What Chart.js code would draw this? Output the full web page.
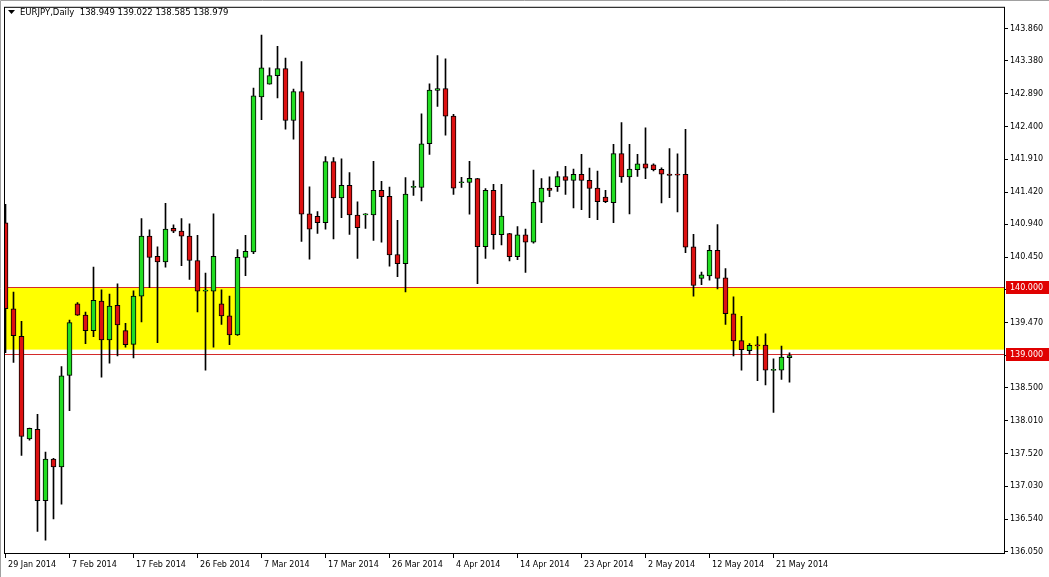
<!DOCTYPE html>
<html>
<head>
<meta charset="utf-8">
<script src="https://cdn.jsdelivr.net/npm/chart.js@4.4.1/dist/chart.umd.min.js"></script>
<style>
  html, body { margin: 0; padding: 0; background: #fff; }
  #wrap { width: 1049px; height: 577px; position: relative; }
</style>
</head>
<body>
<div id="wrap"><canvas id="chart"></canvas></div>
<script>
// EURJPY daily candles, 29 Jan 2014 .. 23 May 2014
const opens = [
    140.963, 139.679, 139.268, 137.737, 137.879, 136.816, 137.437, 137.321, 138.684, 139.753,
    139.584, 139.353, 139.795, 139.216, 139.732, 139.353, 139.147, 139.868, 140.763, 140.463,
    140.379, 140.879, 140.837, 140.763, 140.400, 139.942, 139.942, 139.753, 139.574, 139.289,
    140.447, 140.526, 142.842, 143.032, 143.158, 143.263, 142.489, 142.921, 141.095, 141.058,
    140.963, 141.874, 141.332, 141.521, 141.079, 141.080, 141.079, 141.447, 141.358, 140.489,
    140.353, 141.490, 141.489, 142.142, 142.937, 142.963, 142.553, 141.560, 141.563, 141.621,
    140.605, 141.447, 140.784, 140.800, 140.458, 140.784, 140.674, 141.268, 141.479, 141.500,
    141.653, 141.595, 141.684, 141.595, 141.479, 141.347, 141.263, 141.995, 141.647, 141.753,
    141.842, 141.826, 141.758, 141.689, 141.679, 141.684, 140.605, 140.132, 140.168, 140.553,
    140.142, 139.605, 139.205, 139.053, 139.135, 139.137, 138.760, 138.763, 138.949
];
const highs = [
    141.237, 139.930, 139.490, 137.900, 138.105, 137.542, 137.447, 138.816, 139.510, 139.770,
    139.630, 140.300, 139.960, 139.900, 140.050, 139.463, 139.947, 141.026, 140.858, 140.605,
    141.253, 140.930, 141.026, 140.947, 140.774, 140.210, 141.095, 139.963, 139.868, 140.563,
    140.774, 142.974, 143.763, 143.274, 143.595, 143.420, 142.958, 143.368, 141.500, 141.130,
    141.950, 141.937, 141.916, 141.710, 141.274, 141.100, 141.880, 141.580, 141.495, 141.000,
    141.637, 141.590, 142.589, 143.037, 143.458, 143.410, 142.580, 141.640, 141.879, 141.626,
    141.474, 141.537, 141.537, 140.805, 140.905, 140.868, 141.747, 141.621, 141.647, 141.726,
    141.805, 141.763, 141.984, 141.779, 141.732, 141.447, 142.132, 142.458, 142.132, 141.984,
    142.379, 141.842, 141.784, 142.068, 141.990, 142.358, 140.789, 140.226, 140.626, 140.937,
    140.279, 139.858, 139.568, 139.158, 139.263, 139.305, 138.932, 139.121, 139.022
];
const lows = [
    139.026, 138.880, 137.490, 137.720, 136.358, 136.226, 136.542, 136.763, 138.158, 139.580,
    139.158, 139.263, 138.658, 138.868, 138.974, 139.105, 138.947, 139.484, 139.995, 139.174,
    140.300, 140.816, 140.321, 140.116, 139.632, 138.763, 139.105, 139.447, 139.142, 139.280,
    140.174, 140.500, 142.500, 143.030, 142.826, 142.358, 142.211, 140.684, 140.421, 140.805,
    140.868, 140.721, 141.037, 140.789, 140.432, 140.879, 140.700, 140.674, 140.316, 140.158,
    139.932, 141.370, 141.289, 141.984, 142.700, 142.268, 141.384, 141.490, 141.089, 140.053,
    140.432, 140.568, 140.632, 140.395, 140.410, 140.221, 140.658, 140.963, 141.353, 141.432,
    141.384, 141.184, 141.158, 141.037, 141.010, 141.263, 140.963, 141.563, 141.095, 141.653,
    141.621, 141.737, 141.258, 141.337, 141.126, 140.516, 139.868, 140.037, 140.105, 139.974,
    139.447, 138.974, 138.763, 139.000, 138.605, 138.542, 138.132, 138.626, 138.585
];
const closes = [
    139.679, 139.279, 137.774, 137.895, 136.816, 137.437, 137.321, 138.679, 139.474, 139.584,
    139.353, 139.805, 139.216, 139.721, 139.437, 139.142, 139.868, 140.763, 140.447, 140.379,
    140.868, 140.837, 140.763, 140.400, 139.942, 139.945, 140.463, 139.574, 139.289, 140.447,
    140.537, 142.858, 143.274, 143.158, 143.263, 142.489, 142.921, 141.089, 140.868, 140.963,
    141.874, 141.332, 141.521, 141.079, 140.889, 141.090, 141.447, 141.353, 140.484, 140.353,
    141.389, 141.500, 142.142, 142.942, 142.963, 142.553, 141.479, 141.565, 141.626, 140.605,
    141.447, 140.784, 141.063, 140.458, 140.784, 140.674, 141.268, 141.479, 141.447, 141.653,
    141.595, 141.684, 141.595, 141.474, 141.279, 141.279, 141.995, 141.647, 141.763, 141.842,
    141.779, 141.753, 141.689, 141.668, 141.674, 140.600, 140.026, 140.184, 140.553, 140.132,
    139.605, 139.200, 139.068, 139.132, 139.125, 138.763, 138.770, 138.958, 138.979
];

// x axis labels sit on every 8th bar
const xTickIndex = [0, 8, 16, 24, 32, 40, 48, 56, 64, 72, 80, 88, 96];
const xTickLabels = ['29 Jan 2014', '7 Feb 2014', '17 Feb 2014', '26 Feb 2014', '7 Mar 2014',
    '17 Mar 2014', '26 Mar 2014', '4 Apr 2014', '14 Apr 2014', '23 Apr 2014', '2 May 2014',
    '12 May 2014', '21 May 2014'];

const yTicks = [143.860, 143.380, 142.890, 142.400, 141.910, 141.420, 140.940, 140.450, 139.960,
    139.470, 138.980, 138.500, 138.010, 137.520, 137.030, 136.540, 136.050];

// support zone + price lines
const zoneTop = 140.0;
const zoneBottom = 139.07;
const levelLines = [140.0, 139.0];
const header = 'EURJPY,Daily  138.949 139.022 138.585 138.979';

const GREEN = '#22dd22';
const RED = '#dd1111';
const FONT = 'DejaVu Sans';

const bodies = opens.map((o, i) => ({ x: i, y: [Math.min(o, closes[i]), Math.max(o, closes[i])] }));
const wicks = lows.map((l, i) => ({ x: i, y: [l, highs[i]] }));
const bodyColors = opens.map((o, i) => closes[i] >= o ? GREEN : RED);

const overlay = {
    id: 'overlay',
    beforeDraw(chart) {
        const ctx = chart.ctx;
        ctx.save();
        ctx.fillStyle = '#fff';
        ctx.fillRect(0, 0, chart.width, chart.height);
        ctx.strokeStyle = '#a0a0a0';
        ctx.lineWidth = 1;
        ctx.beginPath();
        ctx.moveTo(0.5, chart.height); ctx.lineTo(0.5, 0.5); ctx.lineTo(chart.width, 0.5);
        ctx.stroke();
        ctx.restore();
    },
    beforeDatasetsDraw(chart) {
        const ctx = chart.ctx, a = chart.chartArea, y = chart.scales.y;
        ctx.save();
        ctx.fillStyle = '#ffff00';
        const t = y.getPixelForValue(zoneTop), b = y.getPixelForValue(zoneBottom);
        ctx.fillRect(a.left, t, a.right - a.left, b - t);
        ctx.strokeStyle = '#d42a2a';
        ctx.lineWidth = 1;
        levelLines.forEach(v => {
            const p = Math.round(y.getPixelForValue(v)) + 0.5;
            ctx.beginPath();
            ctx.moveTo(a.left, p);
            ctx.lineTo(a.right, p);
            ctx.stroke();
        });
        ctx.restore();
    },
    afterDraw(chart) {
        const ctx = chart.ctx, a = chart.chartArea, y = chart.scales.y;
        ctx.save();
        // plot frame
        ctx.strokeStyle = '#000';
        ctx.lineWidth = 1;
        ctx.strokeRect(a.left + 0.5, a.top + 0.5, a.right - a.left, a.bottom - a.top);
        // header
        ctx.fillStyle = '#000';
        ctx.beginPath();
        ctx.moveTo(8, 10); ctx.lineTo(15, 10); ctx.lineTo(11.5, 14);
        ctx.closePath();
        ctx.fill();
        ctx.font = '8.5px "' + FONT + '"';
        ctx.textBaseline = 'middle';
        ctx.fillText(header, 20, 13);
        // price labels of the level lines
        ctx.font = '8px "' + FONT + '"';
        levelLines.forEach(v => {
            const p = Math.round(y.getPixelForValue(v));
            ctx.fillStyle = '#e00000';
            ctx.fillRect(a.right + 2, p - 6, 43, 13);
            ctx.fillStyle = '#fff';
            ctx.textAlign = 'left';
            ctx.fillText(v.toFixed(3), a.right + 6, p + 0.5);
        });
        ctx.restore();
    }
};

new Chart(document.getElementById('chart'), {
    type: 'bar',
    data: {
        datasets: [
            {
                label: 'body',
                data: bodies,
                backgroundColor: bodyColors,
                borderColor: '#000',
                borderWidth: 1,
                borderSkipped: false,
                barThickness: 5,
                minBarLength: 1,
                grouped: false,
                order: 1
            },
            {
                label: 'wick',
                data: wicks,
                backgroundColor: '#000',
                borderWidth: 0,
                barThickness: 1,
                grouped: false,
                order: 2
            }
        ]
    },
    options: {
        responsive: true,
        maintainAspectRatio: false,
        animation: false,
        layout: { padding: { left: 4, top: 4, right: 0, bottom: 0 } },
        plugins: { legend: { display: false }, tooltip: { enabled: false } },
        scales: {
            x: {
                type: 'linear',
                min: -0.1875,
                max: 124.8125,
                offset: false,
                afterBuildTicks: s => { s.ticks = xTickIndex.map(v => ({ value: v })); },
                afterFit: s => { s.height = 24; },
                border: { display: false },
                grid: { drawOnChartArea: false, tickLength: 5, color: '#000', offset: false },
                ticks: {
                    autoSkip: false,
                    maxRotation: 0,
                    align: 'start',
                    padding: 2,
                    color: '#000',
                    font: { family: FONT, size: 8 },
                    callback: v => ' ' + xTickLabels[xTickIndex.indexOf(v)]
                }
            },
            y: {
                type: 'linear',
                position: 'right',
                min: 136.035,
                max: 144.185,
                afterBuildTicks: s => { s.ticks = yTicks.map(v => ({ value: v })); },
                afterFit: s => { s.width = 45; },
                border: { display: false },
                grid: { drawOnChartArea: false, tickLength: 4, color: '#000' },
                ticks: {
                    autoSkip: false,
                    padding: 2,
                    color: '#000',
                    font: { family: FONT, size: 8 },
                    callback: v => v.toFixed(3)
                }
            }
        }
    },
    plugins: [overlay]
});
</script>
</body>
</html>
